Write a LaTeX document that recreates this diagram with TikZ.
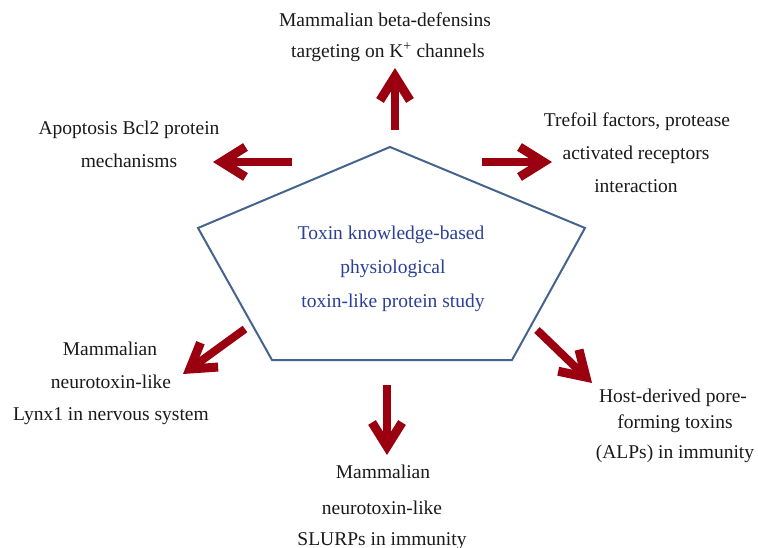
\documentclass[tikz,border=0pt]{standalone}
\usepackage{fontspec}
\setmainfont{Liberation Serif}
\usetikzlibrary{arrows.meta}
\definecolor{arrowred}{HTML}{9A0010}
\definecolor{pentblue}{HTML}{44648F}
\definecolor{textblue}{HTML}{2B3F98}
\definecolor{txt}{HTML}{1A1A1A}
\begin{document}
\begin{tikzpicture}[x=1pt,y=-1pt,
  lbl/.style={font=\fontsize{19.5}{23}\selectfont, text=txt, inner sep=0pt, anchor=base},
  ctr/.style={lbl, text=textblue},
  bigarrow/.style={draw=arrowred, line width=8pt, line cap=butt,
     -{Straight Barb[sharp, length=24pt, width=30pt, line width=9pt]}},
  pent/.style={draw=pentblue, line width=2pt, line join=miter}]
\useasboundingbox (0,0) rectangle (758,548);

% pentagon
\coordinate (pt) at (390,147);
\coordinate (pr) at (585,228);
\coordinate (pbr) at (512,360);
\coordinate (pbl) at (272,360);
\coordinate (pl) at (198,228);
\draw[pent] (pt) -- (pr) -- (pbr) -- (pbl) -- (pl) -- cycle;

% centre text
\node[ctr] (c1) at (391,240) {Toxin knowledge-based};
\node[ctr] (c2) at (393,273) {physiological};
\node[ctr] (c3) at (393,308) {toxin-like protein study};

% arrows
\coordinate (aus) at (395,130); \coordinate (aue) at (395,68);
\coordinate (als) at (292,162); \coordinate (ale) at (213,162);
\coordinate (ars) at (482,162); \coordinate (are) at (552,162);
\coordinate (abls) at (245,329); \coordinate (able) at (183,374);
\coordinate (ads) at (387,385); \coordinate (ade) at (387,455);
\coordinate (abrs) at (537,330); \coordinate (abre) at (592,383);
\draw[bigarrow] (aus) -- (aue);
\draw[bigarrow] (als) -- (ale);
\draw[bigarrow] (ars) -- (are);
\draw[bigarrow] (abls) -- (able);
\draw[bigarrow] (ads) -- (ade);
\draw[bigarrow] (abrs) -- (abre);

% top
\node[lbl] (t1) at (385,27) {Mammalian beta-defensins};
\node[lbl] (t2) at (388,58) {targeting on K\textsuperscript{+} channels};
% apoptosis
\node[lbl] (a1) at (129,135) {Apoptosis Bcl2 protein};
\node[lbl] (a2) at (129,168) {mechanisms};
% trefoil
\node[lbl] (f1) at (637,127) {Trefoil factors, protease};
\node[lbl] (f2) at (636,160) {activated receptors};
\node[lbl] (f3) at (636,193) {interaction};
% lynx1
\node[lbl] (l1) at (110,355) {Mammalian};
\node[lbl] (l2) at (111,388) {neurotoxin-like};
\node[lbl] (l3) at (111,420) {Lynx1 in nervous system};
% host
\node[lbl] (h1) at (673,402) {Host-derived pore-};
\node[lbl] (h2) at (675,428) {forming toxins};
\node[lbl] (h3) at (675,458) {(ALPs) in immunity};
% slurps
\node[lbl] (s1) at (383,478) {Mammalian};
\node[lbl] (s2) at (382,514) {neurotoxin-like};
\node[lbl] (s3) at (382,545) {SLURPs in immunity};
\end{tikzpicture}
\end{document}
